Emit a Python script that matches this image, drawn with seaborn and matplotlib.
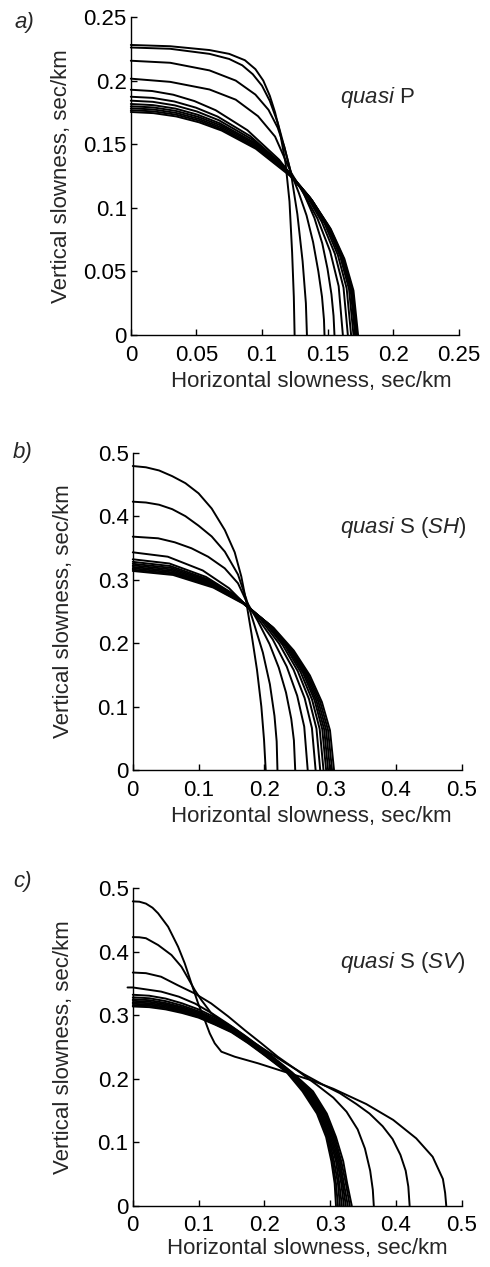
import matplotlib
matplotlib.use("Agg")
import matplotlib.pyplot as plt
import seaborn as sns
import pandas as pd

# ---------------- data ----------------
# quasi P slowness curves (sec/km)
P_X = [
    [0, .03, .06, .075, .087, .095, .101, .106, .11, .114, .118, .121, .123, .1243, .1249],
    [0, .03, .06, .075, .085, .093, .1, .106, .112, .117, .122, .127, .131, .1335, .1343],
    [0, .03, .06, .08, .095, .105, .112, .117, .122, .128, .134, .139, .143, .1458, .1473, .1477],
    [0, .03, .06, .08, .097, .11, .122, .132, .14, .146, .15, .153, .1546, .1553],
    [0, .0162, .0323, .0485, .0647, .0889, .1132, .1294, .1423, .152, .1585, .1617],
    [0, .0166, .0331, .0497, .0662, .091, .1159, .1324, .1456, .1556, .1622, .1655],
    [0, .0168, .0336, .0504, .0672, .0924, .1176, .1344, .1478, .1579, .1646, .168],
    [0, .017, .034, .0509, .0679, .0934, .1189, .1358, .1494, .1596, .1664, .1698],
    [0, .0171, .0342, .0513, .0684, .0941, .1197, .1368, .1505, .1607, .1676, .171],
    [0, .0172, .0344, .0515, .0687, .0945, .1203, .1374, .1512, .1615, .1684, .1718],
    [0, .0173, .0345, .0518, .069, .0949, .1208, .1381, .1519, .1622, .1691, .1726],
    [0, .0173, .0347, .052, .0693, .0953, .1213, .1386, .1525, .1629, .1698, .1733],
]
P_Y = [
    [.228, .227, .224, .221, .216, .209, .200, .188, .175, .158, .135, .105, .065, .03, 0],
    [.226, .225, .221, .217, .212, .205, .196, .184, .167, .148, .128, .095, .058, .025, 0],
    [.2156, .214, .208, .2, .189, .177, .163, .148, .128, .112, .094, .073, .05, .03, .012, 0],
    [.2015, .199, .193, .185, .172, .156, .128, .111, .092, .072, .052, .032, .015, 0],
    [.1928, .1918, .1889, .1839, .1767, .161, .1377, .1157, .0916, .0658, .0384, 0],
    [.1873, .1864, .1836, .1787, .1717, .1564, .1338, .1124, .089, .0639, .0373, 0],
    [.1842, .1833, .1805, .1757, .1688, .1538, .1315, .1105, .0875, .0628, .0367, 0],
    [.1816, .1807, .178, .1732, .1664, .1517, .1297, .109, .0863, .062, .0361, 0],
    [.1798, .1789, .1762, .1715, .1648, .1502, .1284, .1079, .0854, .0613, .0358, 0],
    [.1782, .1773, .1746, .17, .1633, .1488, .1273, .1069, .0846, .0608, .0355, 0],
    [.1767, .1758, .1732, .1686, .1619, .1476, .1262, .106, .0839, .0603, .0352, 0],
    [.1753, .1744, .1718, .1672, .1607, .1464, .1252, .1052, .0833, .0598, .0349, 0],
]

# quasi S (SH) slowness curves
SH_X = [
    [0, .02, .04, .06, .08, .1, .12, .14, .155, .165, .1725, .1804, .1889, .1955, .1996, .2021],
    [0, .02, .04, .06, .08, .1, .12, .14, .16, .1727, .1839, .1978, .2085, .2155, .2188, .22],
    [0, .0385, .0638, .0892, .1145, .1398, .16, .1727, .19, .208, .222, .233, .241, .245, .247],
    [0, .0532, .1064, .1463, .1862, .2128, .2341, .25, .2607, .266],
    [0, .0556, .1112, .1529, .1946, .2224, .2446, .2613, .2724, .278],
    [0, .057, .114, .1568, .1995, .228, .2508, .2679, .2793, .285],
    [0, .058, .116, .1595, .203, .232, .2552, .2726, .2842, .29],
    [0, .0588, .1176, .1617, .2058, .2352, .2587, .2764, .2881, .294],
    [0, .0594, .1188, .1634, .2079, .2376, .2614, .2792, .2911, .297],
    [0, .06, .12, .165, .21, .24, .264, .282, .294, .3],
    [0, .0606, .1212, .1667, .2121, .2424, .2666, .2848, .2969, .303],
    [0, .0612, .1224, .1683, .2142, .2448, .2693, .2876, .2999, .306],
]
SH_Y = [
    [.479, .477, .472, .463, .452, .436, .412, .378, .343, .305, .265, .2154, .1576, .0998, .0473, 0],
    [.4228, .4215, .418, .411, .400, .385, .368, .344, .308, .269, .232, .185, .135, .085, .045, 0],
    [.3677, .3651, .3588, .3494, .3361, .3178, .2942, .266, .235, .1983, .1612, .122, .0805, .0467, 0],
    [.343, .3361, .3144, .2865, .2449, .2058, .1629, .117, .0683, 0],
    [.332, .3254, .3043, .2773, .2371, .1992, .1577, .1133, .0661, 0],
    [.328, .3214, .3006, .2739, .2342, .1968, .1558, .1119, .0653, 0],
    [.325, .3185, .2979, .2714, .2321, .195, .1544, .1109, .0647, 0],
    [.3225, .316, .2956, .2694, .2303, .1935, .1532, .11, .0642, 0],
    [.32, .3136, .2933, .2673, .2285, .192, .152, .1092, .0637, 0],
    [.3178, .3114, .2913, .2654, .2269, .1907, .151, .1084, .0632, 0],
    [.3156, .3093, .2892, .2636, .2254, .1894, .1499, .1077, .0628, 0],
    [.3136, .3073, .2874, .2619, .2239, .1882, .149, .107, .0624, 0],
]

# quasi S (SV) slowness curves
SV_X = [
    [0, .01, .02, .03, .0385, .0537, .0689, .079, .0891, .0993, .1094, .117, .1246, .1347, .155,
     .1905, .2304, .27, .305, .355, .396, .431, .456, .4716, .475, .4767],
    [0, .01, .02, .0385, .0588, .074, .0841, .0942, .1043, .1195, .1398, .17, .2, .23, .26, .29,
     .315, .34, .36, .38, .395, .407, .415, .419, .421],
    [0, .02, .043, .0684, .0937, .119, .145, .17, .195, .2204, .25, .28, .305, .325, .342,
     .353, .361, .365, .3665],
    [-.008, 0, .043, .07, .095, .12, .145, .17, .2, .242, .274, .295, .309, .320, .326, .333],
    [0, .025, .05, .075, .1, .125, .15, .175, .2, .241, .272, .293, .307, .317, .324, .330],
    [0, .025, .05, .075, .1, .125, .15, .175, .2, .240, .270, .291, .305, .315, .321, .327],
    [0, .025, .05, .075, .1, .125, .15, .175, .2, .239, .268, .290, .303, .313, .319, .324],
    [0, .025, .05, .075, .1, .125, .15, .175, .2, .238, .266, .288, .301, .311, .317, .321],
    [0, .025, .05, .075, .1, .125, .15, .175, .2, .237, .264, .286, .299, .309, .314, .318],
    [0, .025, .05, .075, .1, .125, .15, .175, .2, .236, .262, .284, .298, .306, .312, .315],
    [0, .025, .05, .075, .1, .125, .15, .175, .2, .235, .260, .282, .296, .304, .309, .312],
    [0, .025, .05, .075, .1, .125, .15, .175, .2, .234, .258, .280, .294, .302, .307, .309],
]
SV_Y = [
    [.479, .4785, .4755, .469, .4602, .4391, .4076, .3815, .350, .3185, .2923, .2713, .2556,
     .2424, .2345, .2241, .2109, .198, .184, .16, .135, .106, .077, .042, .02, 0],
    [.4228, .4225, .421, .4103, .3946, .3761, .3579, .3395, .3237, .3028, .287, .266, .246,
     .226, .207, .19, .177, .16, .145, .125, .105, .08, .055, .03, 0],
    [.367, .366, .3604, .347, .3343, .3185, .298, .2765, .256, .2345, .213, .19, .17, .148,
     .12, .09, .055, .025, 0],
    [.3435, .3435, .337, .329, .318, .303, .286, .268, .245, .21, .18, .145, .108, .07, .035, 0],
    [.332, .3305, .326, .3185, .309, .2965, .282, .2635, .243, .21, .18, .145, .108, .07, .035, 0],
    [.328, .3265, .322, .315, .306, .294, .280, .262, .242, .21, .18, .145, .108, .07, .035, 0],
    [.325, .3235, .319, .3125, .304, .292, .278, .2605, .241, .21, .18, .145, .108, .07, .035, 0],
    [.3225, .321, .317, .3105, .302, .290, .277, .2595, .240, .21, .18, .145, .108, .07, .035, 0],
    [.32, .3187, .315, .3085, .300, .2885, .276, .2585, .239, .21, .18, .145, .108, .07, .035, 0],
    [.3178, .3166, .313, .3068, .299, .2875, .275, .2575, .238, .21, .18, .145, .108, .07, .035, 0],
    [.3156, .3145, .311, .3048, .297, .286, .274, .257, .238, .21, .18, .145, .108, .07, .035, 0],
    [.3136, .3125, .309, .3033, .296, .285, .273, .256, .237, .21, .18, .145, .108, .07, .035, 0],
]

TICKS_A = [0, 0.05, 0.1, 0.15, 0.2, 0.25]
TICKLABELS_A = ["0", "0.05", "0.1", "0.15", "0.2", "0.25"]
TICKS_BC = [0, 0.1, 0.2, 0.3, 0.4, 0.5]
TICKLABELS_BC = ["0", "0.1", "0.2", "0.3", "0.4", "0.5"]

XLABEL = "Horizontal slowness, sec/km"
YLABEL = "Vertical slowness, sec/km"
PANEL_LABELS = ["a)", "b)", "c)"]
TITLES = [r"$\mathit{quasi}$ P", r"$\mathit{quasi}$ S ($\mathit{SH}$)",
          r"$\mathit{quasi}$ S ($\mathit{SV}$)"]

# ---------------- style ----------------
sns.set_theme(style="ticks")
plt.rcParams['font.family'] = ['Liberation Sans', 'DejaVu Sans']
plt.rcParams['mathtext.fontset'] = 'custom'
plt.rcParams['mathtext.rm'] = 'Liberation Sans'
plt.rcParams['mathtext.it'] = 'Liberation Sans:italic'
plt.rcParams['axes.edgecolor'] = 'black'
plt.rcParams['axes.linewidth'] = 1.0

FS = 16


def to_frame(xs, ys):
    rows = []
    for i, (cx, cy) in enumerate(zip(xs, ys)):
        for j, (x, y) in enumerate(zip(cx, cy)):
            rows.append({"curve": i, "order": j, "x": x, "y": y})
    return pd.DataFrame(rows)


fig = plt.figure(figsize=(4.9, 12.67), dpi=100)

panels = [
    dict(pos=[0.267, 0.7356, 0.669, 0.251], xs=P_X, ys=P_Y, lim=0.25,
         ticks=TICKS_A, labels=TICKLABELS_A, xl=(0.552, -0.147), yl=(-0.213, 0.5),
         plabel=(0.049, 0.9826), title=(0.694, 0.9227)),
    dict(pos=[0.271, 0.3923, 0.671, 0.2504], xs=SH_X, ys=SH_Y, lim=0.5,
         ticks=TICKS_BC, labels=TICKLABELS_BC, xl=(0.544, -0.148), yl=(-0.211, 0.5),
         plabel=(0.047, 0.6425), title=(0.694, 0.584)),
    dict(pos=[0.271, 0.0484, 0.671, 0.2507], xs=SV_X, ys=SV_Y, lim=0.5,
         ticks=TICKS_BC, labels=TICKLABELS_BC, xl=(0.530, -0.136), yl=(-0.211, 0.5),
         plabel=(0.045, 0.3039), title=(0.694, 0.2407)),
]

for k, p in enumerate(panels):
    ax = fig.add_axes(p["pos"])
    df = to_frame(p["xs"], p["ys"])
    sns.lineplot(data=df, x="x", y="y", units="curve", estimator=None, sort=False,
                 color="black", linewidth=1.4, ax=ax, legend=False)
    for ln in ax.lines:
        ln.set_clip_on(False)
    ax.set_xlim(0, p["lim"])
    ax.set_ylim(0, p["lim"])
    ax.set_xticks(p["ticks"])
    ax.set_xticklabels(p["labels"])
    ax.set_yticks(p["ticks"])
    ax.set_yticklabels(p["labels"])
    sns.despine(ax=ax)
    ax.tick_params(axis="both", direction="in", length=4, width=1, colors="black",
                   labelsize=FS)
    ax.tick_params(axis="x", pad=7)
    ax.tick_params(axis="y", pad=3)
    ax.set_xlabel(XLABEL, fontsize=FS)
    ax.set_ylabel(YLABEL, fontsize=FS)
    ax.xaxis.label.set_va("center")
    ax.yaxis.label.set_va("center")
    ax.xaxis.set_label_coords(*p["xl"])
    ax.yaxis.set_label_coords(*p["yl"])
    fig.text(p["plabel"][0], p["plabel"][1], PANEL_LABELS[k], fontsize=FS,
             style="italic", ha="center", va="center")
    fig.text(p["title"][0], p["title"][1], TITLES[k], fontsize=FS, ha="left", va="center")

fig.savefig("out.png", dpi=100)
